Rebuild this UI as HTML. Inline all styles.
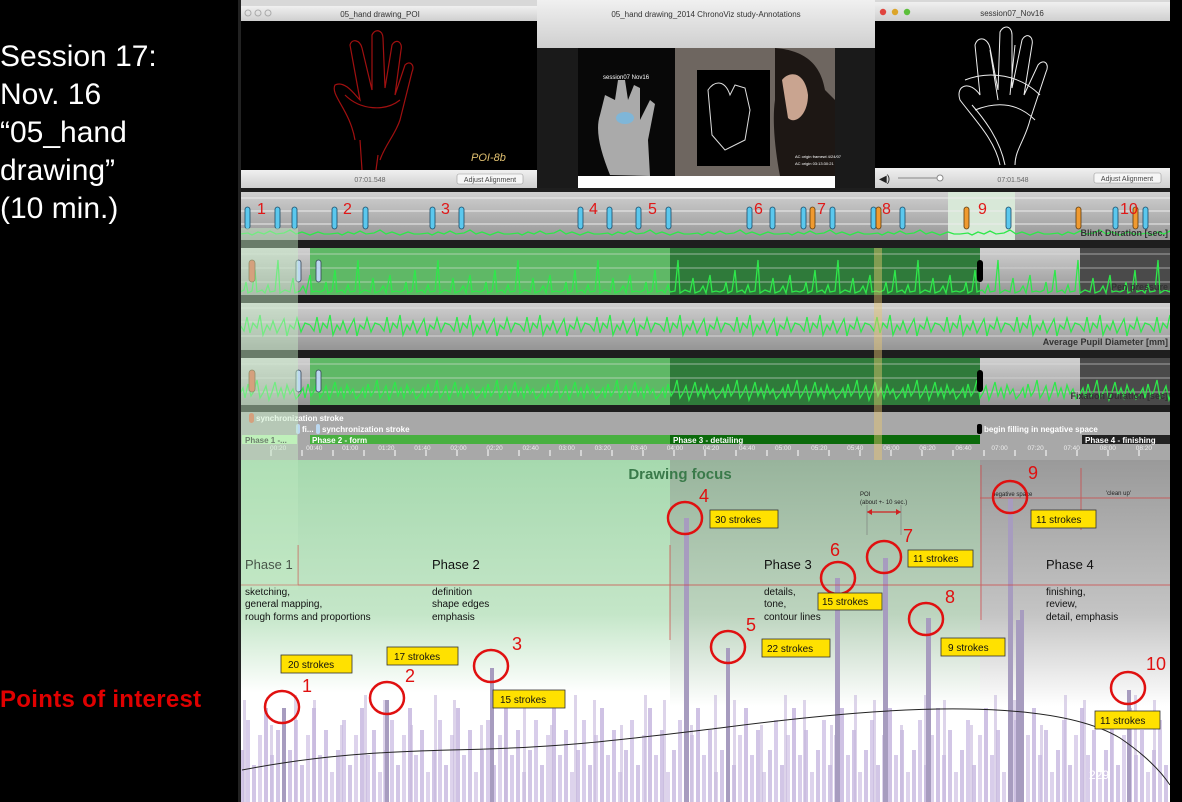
<!DOCTYPE html>
<html><head><meta charset="utf-8"><style>
html,body{margin:0;padding:0;background:#000;}
body{width:1182px;height:802px;overflow:hidden;position:relative;font-family:"Liberation Sans",sans-serif;}
.lt{position:absolute;left:0;color:#fff;font-size:30px;line-height:38px;}
</style></head><body>
<div class="lt" style="top:38px;">Session 17:<br>Nov. 16<br>“05_hand<br>drawing”<br>(10 min.)</div>
<div style="position:absolute;left:0;top:686px;color:#e00000;font-weight:bold;font-size:24px;letter-spacing:0.3px;">Points of interest</div>
<svg width="1182" height="802" style="position:absolute;left:0;top:0" xmlns="http://www.w3.org/2000/svg" font-family="Liberation Sans, sans-serif">
<defs>
<linearGradient id="tb" x1="0" y1="0" x2="0" y2="1"><stop offset="0" stop-color="#f0f0f0"/><stop offset="1" stop-color="#cfcfcf"/></linearGradient>
<linearGradient id="trk" x1="0" y1="0" x2="0" y2="1"><stop offset="0" stop-color="#d0d0d0"/><stop offset="1" stop-color="#959595"/></linearGradient>
<linearGradient id="gA" x1="0" y1="0" x2="0" y2="1"><stop offset="0" stop-color="#a6d9ae"/><stop offset="0.45" stop-color="#c4e6c8"/><stop offset="0.68" stop-color="#ffffff"/><stop offset="1" stop-color="#ffffff"/></linearGradient>
<linearGradient id="gB" x1="0" y1="0" x2="0" y2="1"><stop offset="0" stop-color="#98b49c"/><stop offset="0.45" stop-color="#bcd4be"/><stop offset="0.72" stop-color="#ffffff"/><stop offset="1" stop-color="#ffffff"/></linearGradient>
<linearGradient id="gC" x1="0" y1="0" x2="0" y2="1"><stop offset="0" stop-color="#9a9a9a"/><stop offset="0.45" stop-color="#c4c4c4"/><stop offset="0.72" stop-color="#ffffff"/><stop offset="1" stop-color="#ffffff"/></linearGradient>
<pattern id="bars" patternUnits="userSpaceOnUse" x="240" y="690" width="48" height="112">
<rect x="0" y="60" width="4" height="60" fill="#d2c6e6"/><rect x="6" y="30" width="4" height="90" fill="#d8cdea"/>
<rect x="12" y="75" width="4" height="40" fill="#d2c6e6"/><rect x="18" y="45" width="4" height="70" fill="#ddd3ec"/>
<rect x="24" y="18" width="4" height="100" fill="#cfc2e4"/><rect x="30" y="65" width="4" height="50" fill="#d8cdea"/>
<rect x="36" y="40" width="4" height="80" fill="#d2c6e6"/><rect x="42" y="82" width="4" height="40" fill="#ddd3ec"/>
</pattern>
<pattern id="bars2" patternUnits="userSpaceOnUse" x="243" y="690" width="70" height="112">
<rect x="0" y="10" width="3" height="110" fill="#c6b8dc"/><rect x="27" y="35" width="3" height="90" fill="#c6b8dc"/><rect x="51" y="5" width="3" height="110" fill="#c6b8dc"/>
</pattern>
<pattern id="ln" patternUnits="userSpaceOnUse" x="240" y="248" width="80" height="47">
<polyline fill="none" stroke="#2ee84a" stroke-width="1.3" points="0,44 4,42 6,34 8,45 12,43 15,22 17,44 22,42 25,45 28,37 30,44 35,43 38,12 40,45 45,42 50,44 53,30 55,45 60,43 63,38 66,45 70,27 72,44 76,43 80,44"/>
</pattern>
<pattern id="ln2" patternUnits="userSpaceOnUse" x="240" y="358" width="60" height="47">
<polyline fill="none" stroke="#2ee84a" stroke-width="1.3" points="0,36 3,30 5,40 8,26 11,38 14,33 17,22 20,40 23,35 26,28 29,42 32,34 35,24 38,38 41,30 44,40 47,27 50,36 53,31 56,41 60,36"/>
</pattern>
<pattern id="ln3" patternUnits="userSpaceOnUse" x="240" y="303" width="70" height="47">
<polyline fill="none" stroke="#2ee84a" stroke-width="1.3" points="0,22 4,28 7,14 10,30 13,20 17,25 20,12 23,32 27,22 30,27 33,18 37,30 40,24 44,16 47,33 50,22 54,26 57,15 61,29 65,20 70,22"/>
</pattern>
<pattern id="ln4" patternUnits="userSpaceOnUse" x="240" y="192" width="90" height="47">
<polyline fill="none" stroke="#2ee84a" stroke-width="1.3" points="0,42 8,41 12,43 18,40 24,42 30,39 36,42 44,41 50,38 56,42 62,40 70,43 78,40 84,42 90,42"/>
</pattern>
</defs>

<rect x="240" y="0" width="930" height="190" fill="#1a1a1a"/>
<rect x="240" y="0" width="930" height="8" fill="#d8d8d8"/>
<rect x="241" y="6" width="296" height="15" fill="url(#tb)"/>
<circle cx="248" cy="13" r="3" fill="none" stroke="#aaa"/><circle cx="258" cy="13" r="3" fill="none" stroke="#aaa"/><circle cx="268" cy="13" r="3" fill="none" stroke="#aaa"/>
<text x="380" y="17" font-size="8" fill="#333" text-anchor="middle">05_hand drawing_POI</text>
<rect x="241" y="21" width="296" height="149" fill="#000"/>
<g fill="none" stroke="#a01010" stroke-width="1.2">
<path d="M355 140 C350 110 330 95 335 85 C345 80 355 95 360 100 L350 45 C352 38 360 40 362 48 L372 90 L372 35 C375 28 383 30 383 38 L385 88 L392 45 C396 38 403 42 401 50 L395 95 L405 65 C410 60 415 65 412 72 L400 120 C395 135 385 145 380 160"/>
<path d="M360 140 L362 170 M378 155 L376 170 M345 95 C360 110 385 112 400 100"/>
</g>
<text x="471" y="161" font-size="11" font-style="italic" fill="#e0c070">POI-8b</text>
<rect x="241" y="170" width="296" height="18" fill="url(#tb)"/>
<text x="370" y="182" font-size="7" fill="#666" text-anchor="middle">07:01.548</text>
<rect x="457" y="174" width="66" height="10" rx="2" fill="#f6f6f6" stroke="#999" stroke-width="0.6"/>
<text x="490" y="182" font-size="7" fill="#444" text-anchor="middle">Adjust Alignment</text>

<rect x="537" y="0" width="338" height="48" fill="url(#tb)"/>
<text x="706" y="17" font-size="8" fill="#333" text-anchor="middle">05_hand drawing_2014 ChronoViz study-Annotations</text>
<rect x="578" y="48" width="257" height="128" fill="#080808"/>
<rect x="675" y="48" width="160" height="128" fill="#6e6660"/>
<rect x="697" y="70" width="73" height="96" fill="#000"/>
<path d="M708 90 C715 80 725 80 730 95 L735 85 L745 88 L750 110 L745 140 L725 150 L712 135 Z" fill="none" stroke="#ddd" stroke-width="1"/>
<path d="M775 48 C800 50 820 60 825 90 L835 100 L835 176 L780 176 C775 150 772 120 775 100 Z" fill="#1d1714"/>
<path d="M782 80 C790 70 805 72 808 95 C808 115 795 125 788 118 Z" fill="#c9a490"/>
<path d="M610 175 C600 150 595 130 600 115 L605 95 L615 100 L618 80 L625 80 L628 100 L634 85 L640 88 L640 120 L650 100 L655 104 L648 140 L650 176 Z" fill="#aaa"/>
<ellipse cx="625" cy="118" rx="9" ry="6" fill="#7fb6d8"/>
<text x="603" y="79" font-size="6" fill="#fff">session07 Nov16</text>
<text x="795" y="158" font-size="4" fill="#fff">AC origin framewi  4/24/07</text>
<text x="795" y="165" font-size="4" fill="#fff">AC origin  03:13:30:21</text>
<rect x="578" y="176" width="257" height="12" fill="#fff"/>

<rect x="875" y="2" width="295" height="19" fill="url(#tb)"/>
<circle cx="883" cy="12" r="3.2" fill="#e0443e"/><circle cx="895" cy="12" r="3.2" fill="#dca52a"/><circle cx="907" cy="12" r="3.2" fill="#5cbf3a"/>
<text x="1012" y="16" font-size="8" fill="#333" text-anchor="middle">session07_Nov16</text>
<rect x="875" y="21" width="295" height="147" fill="#000"/>
<g fill="none" stroke="#eee" stroke-width="1">
<path d="M1000 165 C995 140 975 120 960 100 C955 85 970 80 980 95 L975 45 C978 35 988 38 990 48 L998 90 L1000 32 C1004 24 1012 26 1012 35 L1012 88 L1022 40 C1026 32 1034 36 1032 45 L1024 95 L1038 65 C1044 58 1050 64 1046 72 L1030 120 C1025 140 1015 150 1015 165"/>
<path d="M965 80 C990 70 1020 75 1040 95 M975 110 C1000 100 1020 105 1035 120"/>
<path d="M1005 165 C1000 140 985 120 972 105 M990 50 L998 100 M1015 45 L1010 95"/>
</g>
<rect x="875" y="168" width="295" height="20" fill="url(#tb)"/>
<text x="879" y="182" font-size="10" fill="#222">◀)</text>
<line x1="898" y1="178" x2="940" y2="178" stroke="#888"/><circle cx="940" cy="178" r="3" fill="#fff" stroke="#888"/>
<text x="1013" y="182" font-size="7" fill="#666" text-anchor="middle">07:01.548</text>
<rect x="1094" y="173" width="67" height="10" rx="2" fill="#f6f6f6" stroke="#999" stroke-width="0.6"/>
<text x="1127" y="181" font-size="7" fill="#444" text-anchor="middle">Adjust Alignment</text>

<rect x="240" y="188" width="930" height="272" fill="#1e1e1e"/>
<rect x="240" y="192" width="930" height="48" fill="url(#trk)"/>
<rect x="948" y="192" width="67" height="48" fill="#d8e8d8"/>
<g stroke="#ececec" stroke-width="1"><line x1="240" y1="198" x2="1170" y2="198"/><line x1="240" y1="211" x2="1170" y2="211"/><line x1="240" y1="224" x2="1170" y2="224"/></g>
<rect x="240" y="192" width="930" height="48" fill="url(#ln4)"/>
<text x="1168" y="236" font-size="9" font-weight="bold" fill="#333" text-anchor="end">Blink Duration [sec.]</text>
<g fill="#5bc8ee" stroke="#1a4a66" stroke-width="0.8">
<rect x="245" y="207" width="5" height="22" rx="2.5"/><rect x="275" y="207" width="5" height="22" rx="2.5"/><rect x="292" y="207" width="5" height="22" rx="2.5"/>
<rect x="332" y="207" width="5" height="22" rx="2.5"/><rect x="363" y="207" width="5" height="22" rx="2.5"/><rect x="430" y="207" width="5" height="22" rx="2.5"/>
<rect x="459" y="207" width="5" height="22" rx="2.5"/><rect x="578" y="207" width="5" height="22" rx="2.5"/><rect x="607" y="207" width="5" height="22" rx="2.5"/>
<rect x="636" y="207" width="5" height="22" rx="2.5"/><rect x="666" y="207" width="5" height="22" rx="2.5"/><rect x="747" y="207" width="5" height="22" rx="2.5"/>
<rect x="770" y="207" width="5" height="22" rx="2.5"/><rect x="801" y="207" width="5" height="22" rx="2.5"/><rect x="830" y="207" width="5" height="22" rx="2.5"/>
<rect x="871" y="207" width="5" height="22" rx="2.5"/><rect x="900" y="207" width="5" height="22" rx="2.5"/><rect x="1006" y="207" width="5" height="22" rx="2.5"/>
<rect x="1113" y="207" width="5" height="22" rx="2.5"/><rect x="1143" y="207" width="5" height="22" rx="2.5"/>
</g>
<g fill="#f09a30" stroke="#5a3a10" stroke-width="0.8">
<rect x="810" y="207" width="5" height="22" rx="2.5"/><rect x="876" y="207" width="5" height="22" rx="2.5"/><rect x="964" y="207" width="5" height="22" rx="2.5"/><rect x="1076" y="207" width="5" height="22" rx="2.5"/><rect x="1133" y="207" width="5" height="22" rx="2.5"/>
</g>
<g fill="#e01818" font-size="16">
<text x="257" y="214">1</text><text x="343" y="214">2</text><text x="441" y="214">3</text><text x="589" y="214">4</text><text x="648" y="214">5</text><text x="754" y="214">6</text><text x="817" y="214">7</text><text x="882" y="214">8</text><text x="978" y="214">9</text><text x="1120" y="214">10</text>
</g>

<rect x="240" y="248" width="930" height="47" fill="url(#trk)"/>
<rect x="310" y="248" width="360" height="47" fill="#5fb866"/>
<rect x="670" y="248" width="310" height="47" fill="#2f7a3a"/>
<rect x="1080" y="248" width="90" height="47" fill="#4a4a4a"/>
<g stroke="#e0e0e0" stroke-opacity="0.6"><line x1="240" y1="254" x2="1170" y2="254"/><line x1="240" y1="268" x2="1170" y2="268"/><line x1="240" y1="282" x2="1170" y2="282"/></g>
<rect x="240" y="248" width="930" height="47" fill="url(#ln)"/>
<text x="1168" y="290" font-size="9" font-weight="bold" fill="#333" text-anchor="end">Pen pressure</text>

<rect x="240" y="303" width="930" height="47" fill="url(#trk)"/>
<g stroke="#e8e8e8" stroke-opacity="0.7"><line x1="240" y1="308" x2="1170" y2="308"/><line x1="240" y1="322" x2="1170" y2="322"/><line x1="240" y1="336" x2="1170" y2="336"/></g>
<rect x="240" y="303" width="930" height="47" fill="url(#ln3)"/>
<text x="1168" y="345" font-size="9" font-weight="bold" fill="#333" text-anchor="end">Average Pupil Diameter [mm]</text>

<rect x="240" y="358" width="930" height="47" fill="url(#trk)"/>
<rect x="310" y="358" width="360" height="47" fill="#5fb866"/>
<rect x="670" y="358" width="310" height="47" fill="#2f7a3a"/>
<rect x="1080" y="358" width="90" height="47" fill="#4a4a4a"/>
<g stroke="#e0e0e0" stroke-opacity="0.6"><line x1="240" y1="364" x2="1170" y2="364"/><line x1="240" y1="378" x2="1170" y2="378"/><line x1="240" y1="392" x2="1170" y2="392"/></g>
<rect x="240" y="358" width="930" height="47" fill="url(#ln2)"/>
<text x="1168" y="399" font-size="9" font-weight="bold" fill="#333" text-anchor="end">Fixation Duration [sec]</text>
<g stroke-width="0.8">
<rect x="249" y="260" width="6" height="22" rx="3" fill="#e06040" stroke="#642"/><rect x="296" y="260" width="5" height="22" rx="2.5" fill="#bcd8f0" stroke="#345"/><rect x="316" y="260" width="5" height="22" rx="2.5" fill="#bcd8f0" stroke="#345"/>
<rect x="249" y="370" width="6" height="22" rx="3" fill="#e06040" stroke="#642"/><rect x="296" y="370" width="5" height="22" rx="2.5" fill="#bcd8f0" stroke="#345"/><rect x="316" y="370" width="5" height="22" rx="2.5" fill="#bcd8f0" stroke="#345"/>
<rect x="977" y="260" width="6" height="22" rx="3" fill="#000"/><rect x="977" y="370" width="6" height="22" rx="3" fill="#000"/>
</g>

<rect x="240" y="412" width="930" height="48" fill="#a8a8a8"/>
<rect x="249" y="413" width="5" height="10" rx="2.5" fill="#e06040"/>
<text x="256" y="421" font-size="8" font-weight="bold" fill="#fff">synchronization stroke</text>
<rect x="296" y="424" width="4" height="10" rx="2" fill="#bcd8f0"/><text x="302" y="432" font-size="8" font-weight="bold" fill="#fff">fi...</text>
<rect x="316" y="424" width="4" height="10" rx="2" fill="#bcd8f0"/><text x="322" y="432" font-size="8" font-weight="bold" fill="#fff">synchronization stroke</text>
<rect x="977" y="424" width="5" height="10" rx="2" fill="#000"/><text x="984" y="432" font-size="8" font-weight="bold" fill="#fff">begin filling in negative space</text>
<rect x="242" y="435" width="55" height="9" fill="#b8f0b0"/><text x="245" y="443" font-size="8" font-weight="bold" fill="#222">Phase 1 -...</text>
<rect x="310" y="435" width="360" height="9" fill="#48b040"/><text x="312" y="443" font-size="8" font-weight="bold" fill="#fff">Phase 2 - form</text>
<rect x="670" y="435" width="310" height="9" fill="#0b6a0b"/><text x="673" y="443" font-size="8" font-weight="bold" fill="#fff">Phase 3 - detailing</text>
<rect x="1082" y="435" width="88" height="9" fill="#222"/><text x="1085" y="443" font-size="8" font-weight="bold" fill="#fff">Phase 4 - finishing</text>
<g stroke="#fff" stroke-width="1">
<line x1="271" y1="450" x2="271" y2="456"/><line x1="302" y1="450" x2="302" y2="456"/><line x1="333" y1="450" x2="333" y2="456"/><line x1="364" y1="450" x2="364" y2="456"/><line x1="395" y1="450" x2="395" y2="456"/><line x1="426" y1="450" x2="426" y2="456"/><line x1="457" y1="450" x2="457" y2="456"/><line x1="488" y1="450" x2="488" y2="456"/><line x1="519" y1="450" x2="519" y2="456"/><line x1="550" y1="450" x2="550" y2="456"/><line x1="581" y1="450" x2="581" y2="456"/><line x1="612" y1="450" x2="612" y2="456"/><line x1="643" y1="450" x2="643" y2="456"/><line x1="674" y1="450" x2="674" y2="456"/><line x1="705" y1="450" x2="705" y2="456"/><line x1="736" y1="450" x2="736" y2="456"/><line x1="767" y1="450" x2="767" y2="456"/><line x1="798" y1="450" x2="798" y2="456"/><line x1="829" y1="450" x2="829" y2="456"/><line x1="860" y1="450" x2="860" y2="456"/><line x1="891" y1="450" x2="891" y2="456"/><line x1="922" y1="450" x2="922" y2="456"/><line x1="953" y1="450" x2="953" y2="456"/><line x1="984" y1="450" x2="984" y2="456"/><line x1="1015" y1="450" x2="1015" y2="456"/><line x1="1046" y1="450" x2="1046" y2="456"/><line x1="1077" y1="450" x2="1077" y2="456"/><line x1="1108" y1="450" x2="1108" y2="456"/><line x1="1139" y1="450" x2="1139" y2="456"/>
</g>
<text x="270" y="450" font-size="6.5" fill="#eee" word-spacing="18">00:20 00:40 01:00 01:20 01:40 02:00 02:20 02:40 03:00 03:20 03:40 04:00 04:20 04:40 05:00 05:20 05:40 06:00 06:20 06:40 07:00 07:20 07:40 08:00 08:20 08:40 09:00 09:20 09:40 10:00</text>

<rect x="874" y="248" width="8" height="212" fill="#e8c870" opacity="0.45"/>
<rect x="240" y="228" width="58" height="232" fill="#c8f0c8" opacity="0.45"/>

<rect x="240" y="460" width="430" height="342" fill="url(#gA)"/>
<rect x="670" y="460" width="310" height="342" fill="url(#gB)"/>
<rect x="980" y="460" width="190" height="342" fill="url(#gC)"/>
<rect x="240" y="690" width="930" height="112" fill="url(#bars)"/>
<rect x="240" y="690" width="930" height="112" fill="url(#bars2)" opacity="0.6"/>
<g fill="#a79cbf">
<rect x="282" y="708" width="4" height="94"/><rect x="385" y="700" width="4" height="102"/><rect x="490" y="668" width="4" height="134"/>
<rect x="684" y="518" width="5" height="284"/><rect x="726" y="648" width="4" height="154"/><rect x="835" y="578" width="5" height="224"/>
<rect x="883" y="558" width="5" height="244"/><rect x="926" y="618" width="5" height="184"/><rect x="1008" y="498" width="5" height="304"/>
<rect x="1127" y="690" width="4" height="112"/><rect x="1016" y="620" width="4" height="182"/><rect x="1020" y="610" width="4" height="192"/>
</g>
<g stroke="#d04040" stroke-width="1" opacity="0.7">
<line x1="240" y1="585" x2="1170" y2="585"/>
<line x1="298" y1="545" x2="298" y2="585"/><line x1="670" y1="545" x2="670" y2="640"/>
<line x1="981" y1="465" x2="981" y2="620"/><line x1="980" y1="498" x2="1170" y2="498"/><line x1="1081" y1="468" x2="1081" y2="530"/>
</g>
<text x="680" y="479" font-size="15" font-weight="bold" fill="#3a7a4a" text-anchor="middle">Drawing focus</text>
<text x="860" y="496" font-size="6" fill="#222">POI</text>
<text x="860" y="504" font-size="6" fill="#222">(about +- 10 sec.)</text>
<line x1="867" y1="512" x2="901" y2="512" stroke="#d02020" stroke-width="1.2"/>
<path d="M867 512 l5 -3 v6z M901 512 l-5 -3 v6z" fill="#d02020"/>
<line x1="867" y1="505" x2="867" y2="535" stroke="#777" stroke-width="0.6"/><line x1="901" y1="505" x2="901" y2="535" stroke="#777" stroke-width="0.6"/>
<text x="992" y="496" font-size="6" fill="#222">negative space</text>
<text x="1106" y="495" font-size="6" fill="#222">'clean up'</text>
<g font-size="13" fill="#111">
<text x="245" y="569">Phase 1</text><text x="432" y="569">Phase 2</text><text x="764" y="569">Phase 3</text><text x="1046" y="569">Phase 4</text>
</g>
<g font-size="10" fill="#111">
<text x="245" y="595">sketching,</text><text x="245" y="607">general mapping,</text><text x="245" y="620">rough forms and proportions</text>
<text x="432" y="595">definition</text><text x="432" y="607">shape edges</text><text x="432" y="620">emphasis</text>
<text x="764" y="595">details,</text><text x="764" y="607">tone,</text><text x="764" y="620">contour lines</text>
<text x="1046" y="595">finishing,</text><text x="1046" y="607">review,</text><text x="1046" y="620">detail, emphasis</text>
</g>
<path d="M242 770 C320 755 380 752 450 750 C560 748 620 740 720 728 C820 715 900 708 965 709 C1040 710 1090 720 1120 738 C1145 755 1160 770 1170 785" fill="none" stroke="#222" stroke-width="1"/>
<g fill="none" stroke="#e01010" stroke-width="2.5">
<ellipse cx="282" cy="707" rx="17" ry="16"/><ellipse cx="387" cy="698" rx="17" ry="16"/><ellipse cx="491" cy="666" rx="17" ry="16"/>
<ellipse cx="685" cy="518" rx="17" ry="16"/><ellipse cx="728" cy="647" rx="17" ry="16"/><ellipse cx="838" cy="578" rx="17" ry="16"/>
<ellipse cx="884" cy="557" rx="17" ry="16"/><ellipse cx="926" cy="619" rx="17" ry="16"/><ellipse cx="1010" cy="497" rx="17" ry="16"/>
<ellipse cx="1128" cy="688" rx="17" ry="16"/>
</g>
<g fill="#e01010" font-size="18">
<text x="302" y="692">1</text><text x="405" y="682">2</text><text x="512" y="650">3</text><text x="699" y="502">4</text><text x="746" y="631">5</text><text x="830" y="556">6</text><text x="903" y="542">7</text><text x="945" y="603">8</text><text x="1028" y="479">9</text><text x="1146" y="670">10</text>
</g>
<g font-size="10" fill="#111">
<rect x="281" y="655" width="71" height="18" fill="#ffe100" stroke="#333" stroke-width="0.8"/><text x="288" y="668">20 strokes</text>
<rect x="387" y="647" width="71" height="18" fill="#ffe100" stroke="#333" stroke-width="0.8"/><text x="394" y="660">17 strokes</text>
<rect x="493" y="690" width="72" height="18" fill="#ffe100" stroke="#333" stroke-width="0.8"/><text x="500" y="703">15 strokes</text>
<rect x="710" y="510" width="68" height="18" fill="#ffe100" stroke="#333" stroke-width="0.8"/><text x="715" y="523">30 strokes</text>
<rect x="762" y="639" width="68" height="18" fill="#ffe100" stroke="#333" stroke-width="0.8"/><text x="767" y="652">22 strokes</text>
<rect x="818" y="593" width="64" height="17" fill="#ffe100" stroke="#333" stroke-width="0.8"/><text x="822" y="605">15 strokes</text>
<rect x="908" y="550" width="65" height="17" fill="#ffe100" stroke="#333" stroke-width="0.8"/><text x="913" y="562">11 strokes</text>
<rect x="941" y="638" width="64" height="18" fill="#ffe100" stroke="#333" stroke-width="0.8"/><text x="948" y="651">9 strokes</text>
<rect x="1031" y="510" width="65" height="18" fill="#ffe100" stroke="#333" stroke-width="0.8"/><text x="1036" y="523">11 strokes</text>
<rect x="1095" y="711" width="65" height="18" fill="#ffe100" stroke="#333" stroke-width="0.8"/><text x="1100" y="724">11 strokes</text>
</g>
<rect x="240" y="460" width="58" height="130" fill="#c8f0c8" opacity="0.3"/>
<text x="1089" y="779" font-size="12" fill="#fff">229</text>
<rect x="1170" y="0" width="12" height="802" fill="#000"/>
<rect x="238" y="0" width="3" height="802" fill="#222"/>
</svg>
</body></html>
